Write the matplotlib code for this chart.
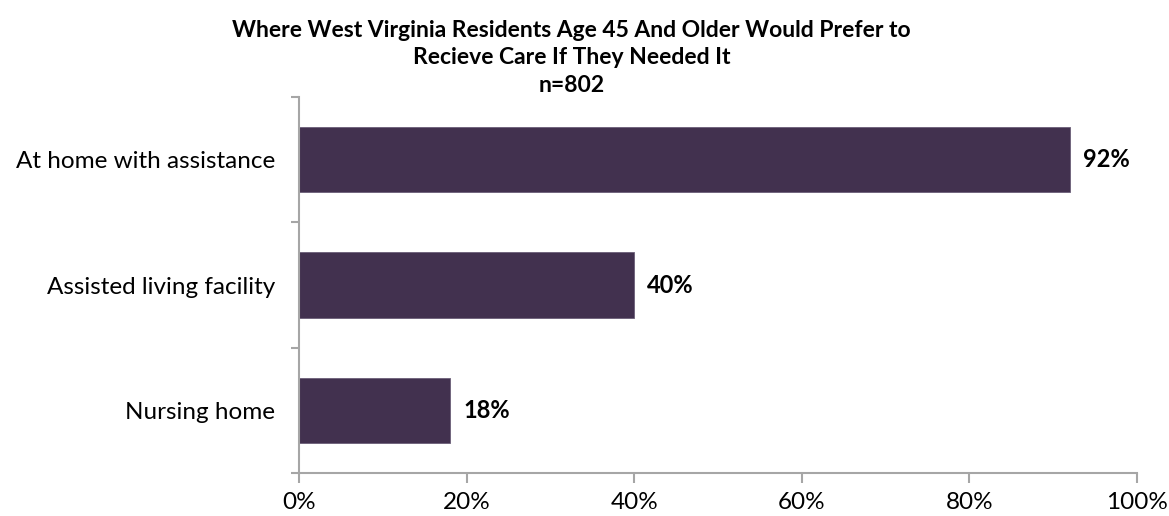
import matplotlib.pyplot as plt
from matplotlib.ticker import PercentFormatter

# data
categories = ["At home with assistance", "Assisted living facility", "Nursing home"]
values = [92, 40, 18]
x_ticks = [0, 20, 40, 60, 80, 100]

bar_color = "#42314f"
axis_color = "#a6a6a6"

plt.rcParams["font.family"] = ["Lato", "DejaVu Sans"]

fig = plt.figure(figsize=(11.69, 5.16), dpi=100)
ax = fig.add_axes([0.2558, 0.0833, 0.7168, 0.7287])

ypos = list(range(len(categories)))
ax.barh(ypos, values, height=0.52, color=bar_color, edgecolor="#6b5e78", linewidth=0.6)

for y, v in zip(ypos, values):
    ax.annotate(f"{v}%", xy=(v, y), xytext=(9.5, 0), textcoords="offset points",
                va="center", ha="left", fontsize=17, fontweight="bold", color="black")

ax.set_xlim(0, 100)
ax.set_ylim(len(categories) - 0.5, -0.5)
ax.set_xticks(x_ticks)
ax.xaxis.set_major_formatter(PercentFormatter(decimals=0))
ax.set_yticks(ypos)
ax.set_yticklabels(categories)
# category boundary ticks like Excel
ax.set_yticks([i - 0.5 for i in range(len(categories) + 1)], minor=True)
ax.tick_params(axis="y", which="major", length=0, pad=17, labelsize=17.5)
ax.tick_params(axis="y", which="minor", length=6, width=1.5, color=axis_color)
ax.tick_params(axis="x", length=7, width=1.5, color=axis_color, labelsize=17.5, pad=7)

for side in ["top", "right"]:
    ax.spines[side].set_visible(False)
for side in ["left", "bottom"]:
    ax.spines[side].set_color(axis_color)
    ax.spines[side].set_linewidth(1.5)

fig.text(0.489, 0.962,
         "Where West Virginia Residents Age 45 And Older Would Prefer to\n"
         "Recieve Care If They Needed It\nn=802",
         ha="center", va="top", fontsize=16.5, fontweight="bold", linespacing=1.38)

plt.savefig("out.png", dpi=100)
